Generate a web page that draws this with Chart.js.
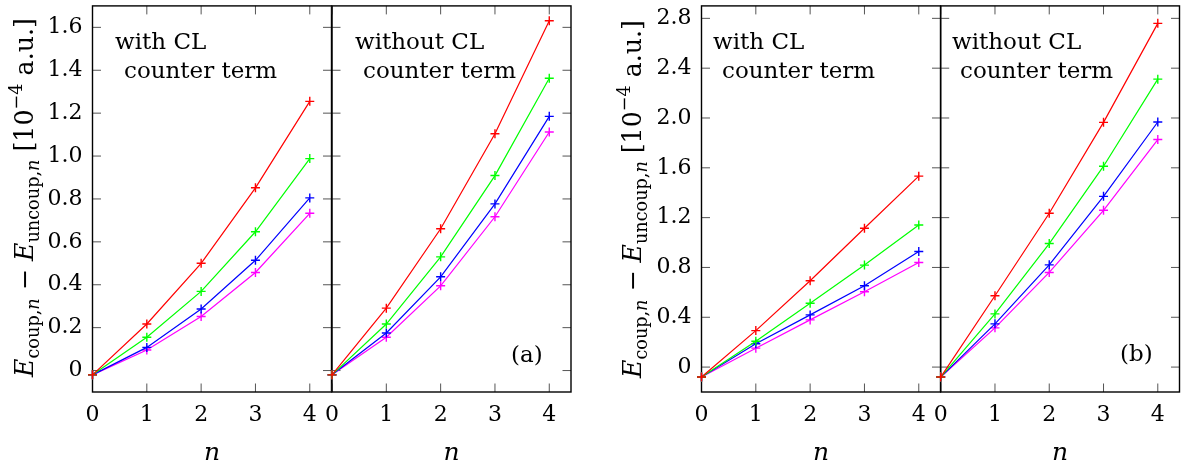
<!DOCTYPE html>
<html><head><meta charset="utf-8">
<script src="https://cdn.jsdelivr.net/npm/chart.js@4.4.1/dist/chart.umd.min.js"></script>
<style>
html,body{margin:0;padding:0;background:#fff;}
#wrap{position:relative;width:1188px;height:465px;overflow:hidden;background:#fff;}
canvas{position:absolute;left:0;top:0;}
</style></head><body>
<div id="wrap">
<canvas id="c1" width="1188" height="465"></canvas>
<canvas id="c2" width="1188" height="465"></canvas>
<canvas id="c3" width="1188" height="465"></canvas>
<canvas id="c4" width="1188" height="465"></canvas>
</div>
<script>
// ---- data ----
const nValues = [0, 1, 2, 3, 4];
const xTickLabels = ['0', '1', '2', '3', '4'];
const yTicksA = [0, 0.2, 0.4, 0.6, 0.8, 1.0, 1.2, 1.4, 1.6];
const yTickLabelsA = ['0', '0.2', '0.4', '0.6', '0.8', '1.0', '1.2', '1.4', '1.6'];
const yTicksB = [0, 0.4, 0.8, 1.2, 1.6, 2.0, 2.4, 2.8];
const yTickLabelsB = ['0', '0.4', '0.8', '1.2', '1.6', '2.0', '2.4', '2.8'];
const seriesColors = ['#ff0000', '#00ff00', '#0000ff', '#ff00ff'];

// panel (a), with CL counter term
const aWithRed     = [-0.02, 0.217, 0.500, 0.852, 1.255];
const aWithGreen   = [-0.02, 0.155, 0.369, 0.647, 0.988];
const aWithBlue    = [-0.02, 0.108, 0.287, 0.514, 0.805];
const aWithMagenta = [-0.02, 0.096, 0.252, 0.457, 0.733];
// panel (a), without CL counter term
const aWithoutRed     = [-0.02, 0.291, 0.661, 1.104, 1.631];
const aWithoutGreen   = [-0.02, 0.217, 0.530, 0.909, 1.363];
const aWithoutBlue    = [-0.02, 0.175, 0.437, 0.777, 1.185];
const aWithoutMagenta = [-0.02, 0.155, 0.395, 0.717, 1.112];
// panel (b), with CL counter term
const bWithRed     = [-0.08, 0.293, 0.693, 1.115, 1.533];
const bWithGreen   = [-0.08, 0.208, 0.512, 0.819, 1.141];
const bWithBlue    = [-0.08, 0.187, 0.419, 0.653, 0.928];
const bWithMagenta = [-0.08, 0.152, 0.379, 0.605, 0.840];
// panel (b), without CL counter term
const bWithoutRed     = [-0.08, 0.573, 1.235, 1.965, 2.760];
const bWithoutGreen   = [-0.08, 0.427, 0.992, 1.613, 2.312];
const bWithoutBlue    = [-0.08, 0.347, 0.821, 1.371, 1.968];
const bWithoutMagenta = [-0.08, 0.315, 0.760, 1.259, 1.827];

const FONT = 'DejaVu Serif';

// ---- drawing helpers ----
function drawYTitle(ctx, baseX, centerY, length) {
  const runs = [
    {t: 'E', it: true, s: 1, dy: 0},
    {t: 'coup,', it: false, s: 0.7, dy: 0.22},
    {t: 'n', it: true, s: 0.7, dy: 0.22},
    {t: ' \u2212 ', it: false, s: 1, dy: 0},
    {t: 'E', it: true, s: 1, dy: 0},
    {t: 'uncoup,', it: false, s: 0.7, dy: 0.22},
    {t: 'n', it: true, s: 0.7, dy: 0.22},
    {t: ' [10', it: false, s: 1, dy: 0},
    {t: '\u22124', it: false, s: 0.7, dy: -0.42},
    {t: ' a.u.]', it: false, s: 1, dy: 0}
  ];
  const base = 22;
  const fontFor = (r, size) => (r.it ? 'italic ' : '') + (size * r.s) + 'px "' + FONT + '"';
  let w = 0;
  runs.forEach(r => { ctx.font = fontFor(r, base); w += ctx.measureText(r.t).width; });
  const size = base * length / w;
  ctx.save();
  ctx.translate(baseX, centerY);
  ctx.rotate(-Math.PI / 2);
  ctx.fillStyle = '#000';
  ctx.textBaseline = 'alphabetic';
  ctx.textAlign = 'left';
  let x = -length / 2;
  runs.forEach(r => {
    ctx.font = fontFor(r, size);
    ctx.fillText(r.t, x, r.dy * size);
    x += ctx.measureText(r.t).width;
  });
  ctx.restore();
}

const framePlugin = {
  id: 'frame',
  beforeDatasetsDraw(chart, args, opts) {
    const {ctx, chartArea: a, scales: {x, y}} = chart;
    const tl = 8.5;
    ctx.save();
    ctx.strokeStyle = '#555';
    ctx.lineWidth = 1;
    ctx.beginPath();
    x.ticks.forEach(t => {
      const px = x.getPixelForValue(t.value);
      ctx.moveTo(px, a.bottom); ctx.lineTo(px, a.bottom - tl);
      ctx.moveTo(px, a.top); ctx.lineTo(px, a.top + tl);
    });
    y.ticks.forEach(t => {
      const py = y.getPixelForValue(t.value);
      ctx.moveTo(a.left, py); ctx.lineTo(a.left + tl, py);
      ctx.moveTo(a.right, py); ctx.lineTo(a.right - tl, py);
    });
    ctx.stroke();
    ctx.strokeStyle = '#000';
    ctx.lineWidth = 1.4;
    ctx.strokeRect(a.left, a.top, a.right - a.left, a.bottom - a.top);
    ctx.restore();
  },
  afterDraw(chart, args, opts) {
    const ctx = chart.ctx;
    ctx.save();
    ctx.fillStyle = '#000';
    ctx.textBaseline = 'middle';
    ctx.textAlign = 'left';
    (opts.texts || []).forEach(tx => {
      ctx.font = tx.size + 'px "' + FONT + '"';
      ctx.fillText(tx.t, tx.x, tx.y);
    });
    ctx.restore();
    if (opts.title) drawYTitle(ctx, opts.title.x, opts.title.y, opts.title.len);
  }
};

function makeChart(id, p) {
  const ctx = document.getElementById(id).getContext('2d');
  return new Chart(ctx, {
    type: 'line',
    data: {
      datasets: p.series.map((s, i) => ({
        data: nValues.map((n, j) => ({x: n, y: s[j]})),
        borderColor: seriesColors[i],
        backgroundColor: seriesColors[i],
        borderWidth: 1.2,
        pointStyle: 'cross',
        pointRadius: 4.5,
        pointHoverRadius: 4.5,
        pointBorderWidth: 1.4,
        fill: false,
        tension: 0,
        clip: false
      }))
    },
    options: {
      responsive: false,
      animation: false,
      devicePixelRatio: 1,
      events: [],
      layout: {padding: {left: p.showY ? 0 : p.left, right: 1188 - p.right, top: 4, bottom: 0}},
      plugins: {
        legend: {display: false},
        tooltip: {enabled: false},
        frame: {texts: p.texts, title: p.title}
      },
      scales: {
        x: {
          type: 'linear', min: 0, max: 4.4,
          grid: {display: false, drawTicks: false},
          border: {display: false},
          afterBuildTicks: s => { s.ticks = nValues.map(v => ({value: v})); },
          ticks: {
            callback: (v, i) => xTickLabels[i],
            font: {family: FONT, size: 22}, color: '#000', padding: 10,
            maxRotation: 0, autoSkip: false
          },
          title: {display: true, text: 'n', font: {family: FONT, style: 'italic', size: 25}, color: '#000', padding: {top: 0, bottom: -3}},
          afterFit: s => { s.height = 73; s.paddingLeft = 0; s.paddingRight = 0; }
        },
        y: {
          type: 'linear', min: p.yMin, max: p.yMax,
          grid: {display: false, drawTicks: false},
          border: {display: false},
          afterBuildTicks: s => { s.ticks = p.yTicks.map(v => ({value: v})); },
          ticks: {
            display: p.showY,
            callback: (v, i) => p.yLabels[i],
            font: {family: FONT, size: 22}, color: '#000', padding: 10,
            autoSkip: false
          },
          afterFit: s => { s.width = p.showY ? p.left : 0; s.paddingTop = 0; s.paddingBottom = 0; }
        }
      }
    },
    plugins: [framePlugin]
  });
}

makeChart('c1', {
  left: 92.5, right: 331.5, yMin: -0.1, yMax: 1.7, yTicks: yTicksA, yLabels: yTickLabelsA, showY: true,
  series: [aWithRed, aWithGreen, aWithBlue, aWithMagenta],
  texts: [{t: 'with CL', x: 115, y: 43, size: 23}, {t: 'counter term', x: 124, y: 72, size: 23}],
  title: {x: 33, y: 197.5, len: 359}
});
makeChart('c2', {
  left: 332, right: 571, yMin: -0.1, yMax: 1.7, yTicks: yTicksA, yLabels: yTickLabelsA, showY: false,
  series: [aWithoutRed, aWithoutGreen, aWithoutBlue, aWithoutMagenta],
  texts: [{t: 'without CL', x: 355, y: 43, size: 23}, {t: 'counter term', x: 363, y: 72, size: 23}, {t: '(a)', x: 511, y: 356, size: 23}]
});
makeChart('c3', {
  left: 701.5, right: 940.5, yMin: -0.2, yMax: 2.9, yTicks: yTicksB, yLabels: yTickLabelsB, showY: true,
  series: [bWithRed, bWithGreen, bWithBlue, bWithMagenta],
  texts: [{t: 'with CL', x: 713, y: 43, size: 23}, {t: 'counter term', x: 722, y: 72, size: 23}],
  title: {x: 641, y: 199, len: 358}
});
makeChart('c4', {
  left: 940.7, right: 1179.5, yMin: -0.2, yMax: 2.9, yTicks: yTicksB, yLabels: yTickLabelsB, showY: false,
  series: [bWithoutRed, bWithoutGreen, bWithoutBlue, bWithoutMagenta],
  texts: [{t: 'without CL', x: 952, y: 43, size: 23}, {t: 'counter term', x: 960, y: 72, size: 23}, {t: '(b)', x: 1120, y: 355, size: 23}]
});
</script>
</body></html>
